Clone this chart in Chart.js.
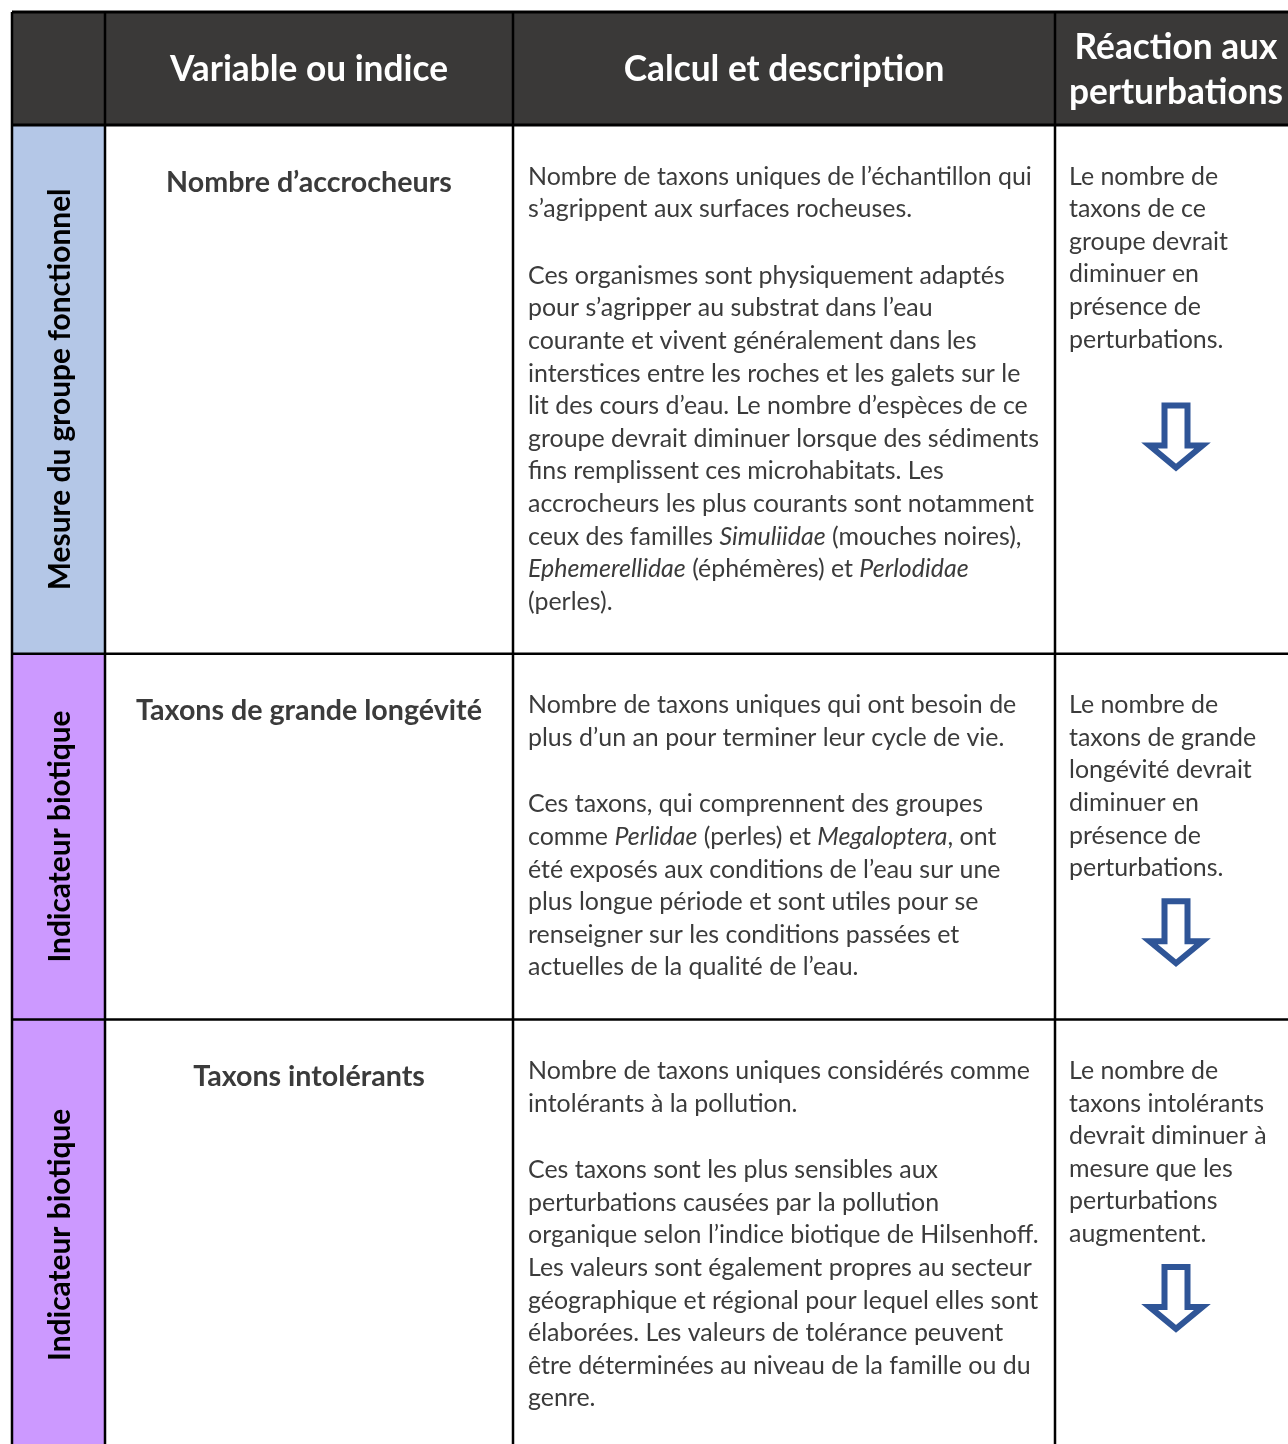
<!DOCTYPE html>
<html>
<head>
<meta charset="utf-8">
<script src="https://cdn.jsdelivr.net/npm/chart.js@4.4.1/dist/chart.umd.min.js"></script>
<style>
html,body{margin:0;padding:0;background:#ffffff;overflow:hidden}
canvas{display:block}
</style>
</head>
<body>
<canvas id="c" width="1288" height="1444"></canvas>
<script>
// ---------------- DATA ----------------
const headerLabels = ["", "Variable ou indice", "Calcul et description", ["Réaction aux", "perturbations"]];

const groupLabels = ["Mesure du groupe fonctionnel", "Indicateur biotique", "Indicateur biotique"];

const variableNames = ["Nombre d’accrocheurs", "Taxons de grande longévité", "Taxons intolérants"];

// *...* marks italic words
const descriptionParagraphs = [
  [
    ["Nombre de taxons uniques de l’échantillon qui",
     "s’agrippent aux surfaces rocheuses."],
    ["Ces organismes sont physiquement adaptés",
     "pour s’agripper au substrat dans l’eau",
     "courante et vivent généralement dans les",
     "interstices entre les roches et les galets sur le",
     "lit des cours d’eau. Le nombre d’espèces de ce",
     "groupe devrait diminuer lorsque des sédiments",
     "fins remplissent ces microhabitats. Les",
     "accrocheurs les plus courants sont notamment",
     "ceux des familles *Simuliidae* (mouches noires),",
     "*Ephemerellidae* (éphémères) et *Perlodidae*",
     "(perles)."]
  ],
  [
    ["Nombre de taxons uniques qui ont besoin de",
     "plus d’un an pour terminer leur cycle de vie."],
    ["Ces taxons, qui comprennent des groupes",
     "comme *Perlidae* (perles) et *Megaloptera*, ont",
     "été exposés aux conditions de l’eau sur une",
     "plus longue période et sont utiles pour se",
     "renseigner sur les conditions passées et",
     "actuelles de la qualité de l’eau."]
  ],
  [
    ["Nombre de taxons uniques considérés comme",
     "intolérants à la pollution."],
    ["Ces taxons sont les plus sensibles aux",
     "perturbations causées par la pollution",
     "organique selon l’indice biotique de Hilsenhoff.",
     "Les valeurs sont également propres au secteur",
     "géographique et régional pour lequel elles sont",
     "élaborées. Les valeurs de tolérance peuvent",
     "être déterminées au niveau de la famille ou du",
     "genre."]
  ]
];

const reactionLines = [
  ["Le nombre de", "taxons de ce", "groupe devrait", "diminuer en", "présence de", "perturbations."],
  ["Le nombre de", "taxons de grande", "longévité devrait", "diminuer en", "présence de", "perturbations."],
  ["Le nombre de", "taxons intolérants", "devrait diminuer à", "mesure que les", "perturbations", "augmentent."]
];

const reactionTrend = ["down", "down", "down"];

// ---------------- LAYOUT / STYLE ----------------
const COL_EDGES = [0, 93, 501, 1043, 1285];   // x-scale units
const HEADER_H = 113;
const HEADER_LH = 45;
const LINE_H = 32.6;
const PARA_GAP = 34;
const PAD_TOP = 59.5;      // row top -> first baseline
const PAD_BOTTOM = 44;     // last baseline -> row bottom
const TITLE_BASE = 66.5;
const TEXT_INSET = 15;
const REACT_INSET = 14;
const ARROW_GAP = [55, 22, 22];
const GROUP_BASE_X = 58;   // baseline offset inside first column
const FONT = "Lato, 'Open Sans', 'Noto Sans', sans-serif";
const COLORS = {
  header: "#3a3938",
  headerText: "#ffffff",
  groups: ["#b4c7e7", "#cc99ff", "#cc99ff"],
  text: "#3b3b3b",
  groupText: "#000000",
  grid: "#000000",
  arrow: "#2f5597"
};

function rowHeight(i) {
  const paras = descriptionParagraphs[i];
  const n = paras.reduce((s, p) => s + p.length, 0);
  return PAD_TOP + (n - 1) * LINE_H + (paras.length - 1) * PARA_GAP + PAD_BOTTOM;
}

function fitSize(ctx, text, weight, style, target) {
  ctx.font = `${style} ${weight} 100px ${FONT}`;
  return 100 * target / ctx.measureText(text).width;
}

function drawRich(ctx, line, x, y, px) {
  const parts = line.split("*");
  let cx = x;
  parts.forEach((seg, k) => {
    if (!seg) return;
    ctx.font = `${k % 2 ? "italic" : "normal"} 400 ${px}px ${FONT}`;
    ctx.fillText(seg, cx, y);
    cx += ctx.measureText(seg).width;
  });
}

const tablePlugin = {
  id: "tablePlugin",
  afterDraw(chart) {
    const ctx = chart.ctx;
    const xs = chart.scales.x, ys = chart.scales.y;
    const X = v => xs.getPixelForValue(v);
    const Y = v => ys.getPixelForValue(v);

    const bodyPx = fitSize(ctx, "Nombre de taxons uniques de l’échantillon qui", 400, "normal", 504);
    const headPx = fitSize(ctx, "Variable ou indice", 700, "normal", 278);
    const titlePx = fitSize(ctx, "Nombre d’accrocheurs", 700, "normal", 286);
    const groupPx = fitSize(ctx, "Mesure du groupe fonctionnel", 700, "normal", 402);

    // row boundaries
    const rowTops = [HEADER_H];
    variableNames.forEach((_, i) => rowTops.push(rowTops[i] + rowHeight(i)));

    ctx.save();
    // header background
    ctx.fillStyle = COLORS.header;
    ctx.fillRect(X(COL_EDGES[0]), Y(0), X(COL_EDGES[4]) - X(COL_EDGES[0]), Y(HEADER_H) - Y(0));

    // group column backgrounds
    variableNames.forEach((_, i) => {
      ctx.fillStyle = COLORS.groups[i];
      ctx.fillRect(X(COL_EDGES[0]), Y(rowTops[i]), X(COL_EDGES[1]) - X(COL_EDGES[0]), Y(rowTops[i + 1]) - Y(rowTops[i]));
    });

    // header text
    ctx.fillStyle = COLORS.headerText;
    ctx.textAlign = "center";
    ctx.textBaseline = "alphabetic";
    ctx.font = `normal 700 ${headPx}px ${FONT}`;
    headerLabels.forEach((lab, c) => {
      const lines = Array.isArray(lab) ? lab : [lab];
      const cx = (X(COL_EDGES[c]) + X(COL_EDGES[c + 1])) / 2;
      const mid = (Y(0) + Y(HEADER_H)) / 2;
      const first = mid + headPx * 0.36 - (lines.length - 1) * HEADER_LH / 2;
      lines.forEach((t, k) => ctx.fillText(t, cx, first + k * HEADER_LH));
    });

    variableNames.forEach((name, i) => {
      const top = rowTops[i], bot = rowTops[i + 1];
      // group label (rotated)
      ctx.save();
      ctx.fillStyle = COLORS.groupText;
      ctx.font = `normal 700 ${groupPx}px ${FONT}`;
      ctx.translate(X(COL_EDGES[0] + GROUP_BASE_X), (Y(top) + Y(bot)) / 2);
      ctx.rotate(-Math.PI / 2);
      ctx.textAlign = "center";
      ctx.fillText(groupLabels[i], 0, 0);
      ctx.restore();

      // variable title
      ctx.fillStyle = COLORS.text;
      ctx.textAlign = "center";
      ctx.font = `normal 700 ${titlePx}px ${FONT}`;
      ctx.fillText(name, (X(COL_EDGES[1]) + X(COL_EDGES[2])) / 2, Y(top + TITLE_BASE));

      // description
      ctx.textAlign = "left";
      let li = 0;
      descriptionParagraphs[i].forEach((para, p) => {
        para.forEach(line => {
          drawRich(ctx, line, X(COL_EDGES[2] + TEXT_INSET), Y(top + PAD_TOP + li * LINE_H + p * PARA_GAP), bodyPx);
          li++;
        });
      });

      // reaction
      ctx.font = `normal 400 ${bodyPx}px ${FONT}`;
      reactionLines[i].forEach((line, k) => {
        ctx.fillText(line, X(COL_EDGES[3] + REACT_INSET), Y(top + PAD_TOP + k * LINE_H));
      });

      // arrow (outline)
      const ax = (X(COL_EDGES[3]) + X(COL_EDGES[4])) / 2;
      const aTop = Y(top + PAD_TOP + (reactionLines[i].length - 1) * LINE_H + ARROW_GAP[i]);
      const sw = 6, sh = 11.5, hh = 26.5, shaftH = 41, tot = 70;
      const dir = reactionTrend[i] === "down" ? 1 : -1;
      const y0 = dir > 0 ? aTop : aTop + tot;
      ctx.beginPath();
      ctx.moveTo(ax - sh, y0 + dir * 3);
      ctx.lineTo(ax + sh, y0 + dir * 3);
      ctx.lineTo(ax + sh, y0 + dir * (shaftH + 2));
      ctx.lineTo(ax + hh, y0 + dir * (shaftH + 2));
      ctx.lineTo(ax, y0 + dir * (tot - 5));
      ctx.lineTo(ax - hh, y0 + dir * (shaftH + 2));
      ctx.lineTo(ax - sh, y0 + dir * (shaftH + 2));
      ctx.closePath();
      ctx.fillStyle = "#ffffff";
      ctx.fill();
      ctx.lineWidth = sw;
      ctx.lineJoin = "miter";
      ctx.strokeStyle = COLORS.arrow;
      ctx.stroke();
    });

    // grid lines
    ctx.strokeStyle = COLORS.grid;
    ctx.lineWidth = 2.5;
    const yBottom = Y(rowTops[rowTops.length - 1]);
    COL_EDGES.forEach(cx => {
      ctx.beginPath();
      ctx.moveTo(X(cx), Y(0));
      ctx.lineTo(X(cx), yBottom);
      ctx.stroke();
    });
    [0, ...rowTops].forEach((ry, k) => {
      ctx.lineWidth = k <= 1 ? 3 : 2.5;
      ctx.beginPath();
      ctx.moveTo(X(COL_EDGES[0]), Y(ry));
      ctx.lineTo(X(COL_EDGES[4]), Y(ry));
      ctx.stroke();
    });
    ctx.restore();
  }
};

new Chart(document.getElementById("c"), {
  type: "scatter",
  data: { datasets: [] },
  options: {
    responsive: false,
    animation: false,
    events: [],
    layout: { padding: { left: 12, top: 12, right: 0, bottom: 0 } },
    plugins: { legend: { display: false }, tooltip: { enabled: false }, title: { display: false } },
    scales: {
      x: { type: "linear", min: 0, max: 1276, display: false },
      y: { type: "linear", min: 0, max: 1432, reverse: true, display: false }
    }
  },
  plugins: [tablePlugin]
});
</script>
</body>
</html>
